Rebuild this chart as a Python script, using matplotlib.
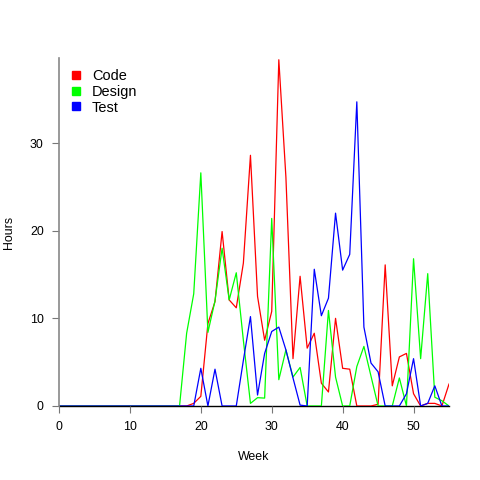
import matplotlib
matplotlib.use("Agg")
import matplotlib.pyplot as plt
from matplotlib.lines import Line2D
import numpy as np

weeks = list(range(0, 56))

code = [0]*18 + [0, 0.3, 1.1, 9.4, 11.9, 19.9, 12.1, 11.2, 16.3, 28.6, 12.5, 7.5,
                 10.8, 39.5, 26.1, 5.4, 14.8, 6.6, 8.3, 2.6, 1.6, 10.0, 4.3, 4.2,
                 0, 0, 0, 0.2, 16.1, 2.3, 5.6, 6.0, 1.4, 0, 0.3, 0.3, 0, 2.5]
design = [0]*17 + [0, 8.3, 12.8, 26.6, 8.4, 12.0, 18.0, 12.1, 15.2, 7.5, 0.3, 0.95,
                   0.9, 21.4, 3.0, 6.4, 3.3, 4.4, 0, 0, 0, 10.9, 3.3, 0, 0,
                   4.5, 6.8, 3.4, 0, 0, 0, 3.2, 0, 16.8, 5.4, 15.1, 1.0, 0.6, 0]
test = [0]*19 + [0, 4.3, 0, 4.2, 0, 0, 0, 5.2, 10.2, 1.25, 6.0, 8.5, 9.0, 6.4, 3.2,
                 0.1, 0, 15.6, 10.3, 12.3, 22.0, 15.5, 17.3, 34.7, 9.0, 4.9, 3.9,
                 0, 0, 0, 1.4, 5.4, 0, 0.3, 2.3, 0, 0]

series_names = ["Code", "Design", "Test"]
series_colors = ["#FF0000", "#00FF00", "#0000FF"]
xticks = [0, 10, 20, 30, 40, 50]
yticks = [0, 10, 20, 30]

plt.rcParams['font.family'] = ['Liberation Sans', 'DejaVu Sans']
fs = 8.64

fig = plt.figure(figsize=(4.8, 4.8), dpi=100)
ax = fig.add_axes([59/480, 1 - 406/480, (449 - 59)/480, (406 - 58)/480])

for vals, name, col in zip([code, design, test], series_names, series_colors):
    ax.plot(weeks, vals, color=col, lw=0.9, label=name)

ax.set_xlim(0, 55)
ax.set_ylim(0, 39.7)
ax.set_xticks(xticks)
ax.set_yticks(yticks)
ax.tick_params(axis='both', direction='out', length=5, width=0.8, color='#777777',
               labelsize=fs + 0.3, pad=6)
for s in ['top', 'right']:
    ax.spines[s].set_visible(False)
ax.spines['left'].set_color('#888888')
ax.spines['left'].set_linewidth(1.2)
ax.spines['bottom'].set_color('#000000')
ax.spines['bottom'].set_linewidth(1.0)
ax.spines['bottom'].set_zorder(0)

ax.set_xlabel("Week", fontsize=fs + 0.3, labelpad=13)
ax.set_ylabel("Hours", fontsize=fs + 0.3)
ax.yaxis.set_label_coords(-0.113, 0.5)

handles = [Line2D([], [], marker='s', linestyle='none', color=c, markersize=5.5)
           for c in series_colors]
ax.legend(handles, series_names, loc='upper left', bbox_to_anchor=(0.01, 0.985),
          frameon=False, fontsize=fs + 1.8, handlelength=1.0, handletextpad=0.6,
          labelspacing=0.12, borderaxespad=0)

fig.savefig("out.png", dpi=100)
